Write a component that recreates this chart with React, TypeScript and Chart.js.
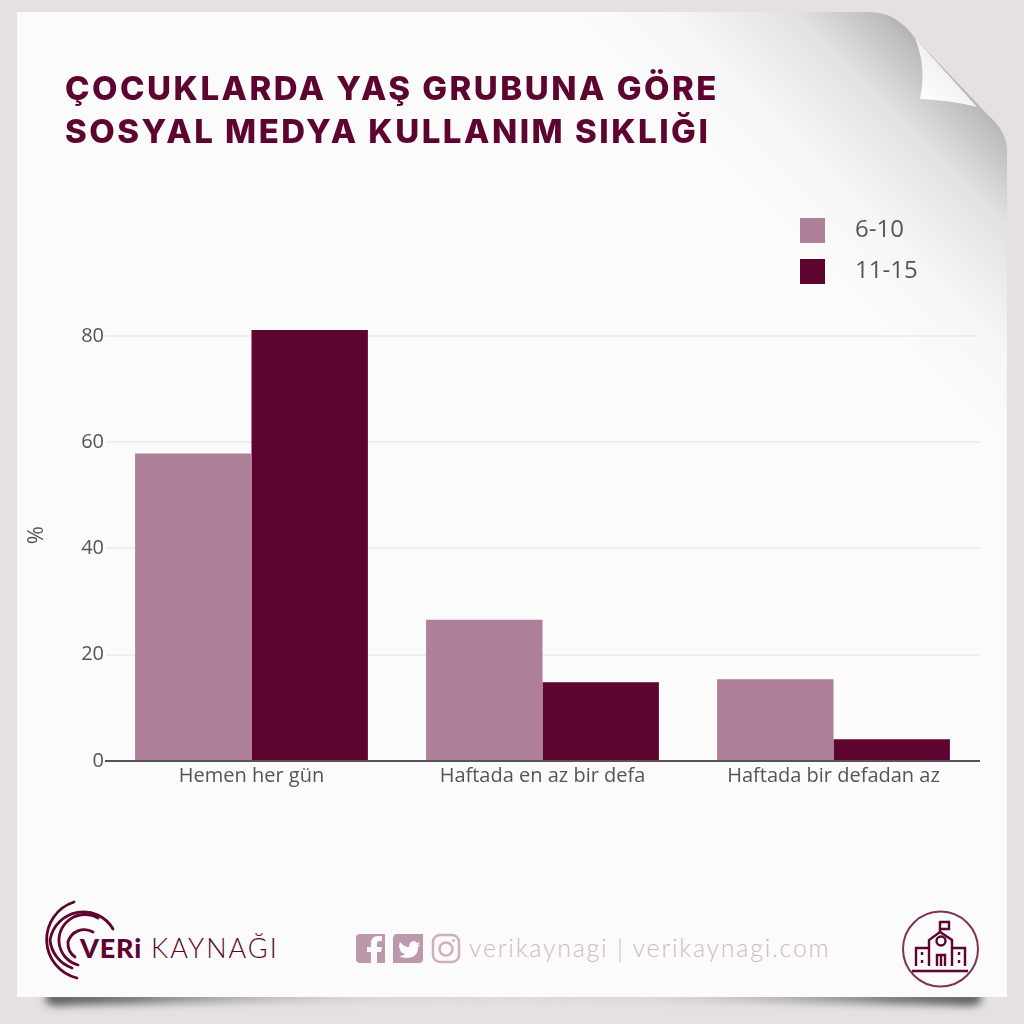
import React, { useEffect, useRef } from "react";
import { Chart, registerables } from "chart.js";

Chart.register(...registerables);

const categories = ["Hemen her gün", "Haftada en az bir defa", "Haftada bir defadan az"];
const series610 = [57.9, 26.6, 15.4];
const series1115 = [81.1, 14.8, 4.1];
const seriesNames = ["6-10", "11-15"];
const seriesColors = ["#ad7f98", "#5e0431"];
const titleLines = ["ÇOCUKLARDA YAŞ GRUBUNA GÖRE", "SOSYAL MEDYA KULLANIM SIKLIĞI"];
const yTicksMax = 85;

const placeBoxes = {
  id: "placeBoxes",
  afterLayout(chart: any) {
    const l = chart.legend;
    if (l) {
      l.left = 784; l.top = 202; l.right = l.left + 180; l.bottom = l.top + 200;
      l.width = 180; l.height = 200;
    }
    const t = chart.titleBlock;
    if (t) {
      t.left = 65;
      t.right = 900;
      if (!t.__spaced) {
        t.__spaced = true;
        const orig = t.draw.bind(t);
        t.draw = () => {
          chart.ctx.save();
          chart.ctx.letterSpacing = "2.5px";
          orig();
          chart.ctx.restore();
        };
      }
    }
  },
};

function Decor() {
  return (
    <svg width="1024" height="1024" viewBox="0 0 1024 1024" style={{ position: "absolute", left: 0, top: 0 }}>
      <defs>
        <filter id="blur" x="-10%" y="-300%" width="120%" height="700%"><feGaussianBlur stdDeviation="4" /></filter>
        <linearGradient id="bs" gradientUnits="userSpaceOnUse" x1="42" x2="985" y1="0" y2="0">
          <stop offset="0" stopColor="#555" />
          <stop offset="0.1" stopColor="#707070" />
          <stop offset="0.36" stopColor="#bbb" stopOpacity="0.3" />
          <stop offset="0.64" stopColor="#bbb" stopOpacity="0.3" />
          <stop offset="0.9" stopColor="#707070" />
          <stop offset="1" stopColor="#555" />
        </linearGradient>
        <linearGradient id="corner" gradientUnits="userSpaceOnUse" x1="965" y1="62" x2="790" y2="237">
          <stop offset="0" stopColor="#a5a5a5" />
          <stop offset="0.13" stopColor="#c0c0c0" />
          <stop offset="0.35" stopColor="#e2e2e2" />
          <stop offset="0.7" stopColor="#f6f6f6" />
          <stop offset="1" stopColor="#fbfbfb" />
        </linearGradient>
        <linearGradient id="curl" gradientUnits="userSpaceOnUse" x1="930" y1="100" x2="965" y2="65">
          <stop offset="0" stopColor="#fdfdfd" />
          <stop offset="0.6" stopColor="#f2f2f2" />
          <stop offset="1" stopColor="#d8d8d8" />
        </linearGradient>
      </defs>
      <rect width="1024" height="1024" fill="#e5e1e2" />
      <path d="M46 992 H981 V1002 Q976 1007 956 1005 Q512 995 68 1005 Q50 1007 46 1002 Z" fill="url(#bs)" filter="url(#blur)" />
      <path d="M17 12 H870 Q896 12 915 38 L988 115 Q1007 132 1007 150 V997 H17 Z" fill="url(#corner)" />
      <path d="M915 38 Q927 68 920 99 Q950 100 977 107 Z" fill="url(#curl)" />

      {/* logo */}
      <g fill="none" stroke="#5e0431" strokeWidth="2.8" strokeLinecap="round">
        <path d="M74 902 A39.5 39.5 0 0 0 77 978" />
        <path d="M113 929 A34 34 0 0 0 50 940 A33 33 0 0 0 72 968" />
        <path d="M98 918 A26 26 0 0 0 59 942 A26 26 0 0 0 78 965" />
        <path d="M93 932 A17 17 0 0 0 68 942 A17 17 0 0 0 75 957" />
      </g>
      <text x="80" y="958" fontFamily="Lato, sans-serif" fontWeight="900" fontSize="27" fill="#5e0431" letterSpacing="0.8">VERi</text>
      <text x="151" y="958" fontFamily="Lato, sans-serif" fontWeight="300" fontSize="27" fill="#5e0431" letterSpacing="2">KAYNAĞI</text>

      {/* social */}
      <g fill="#bd98ac">
        <path d="M360 934 H385 V963 H377 V952 H381 L382 947 H377 V944 Q377 941 380 941 H382 V936 H378 Q371 936 371 944 V947 H367 V952 H371 V963 H360 Q356 963 356 959 V938 Q356 934 360 934 Z" />
        <path fillRule="evenodd" d="M397 934 H423 V959 Q423 963 419 963 H393 V938 Q393 934 397 934 Z M400 942 Q404 947 409 947 Q409 941 414 941 Q416 941 417 943 L420 942 L418 945 L420 945 Q419 947 418 947 Q418 958 406 958 Q402 958 399 956 Q403 956 405 954 Q400 953 400 949 Q398 947 400 942 Z" />
      </g>
      <g fill="none" stroke="#cdb0c0">
        <rect x="433" y="935" width="26" height="27" rx="7" strokeWidth="2.5" />
        <circle cx="446" cy="949" r="6.5" strokeWidth="2.5" />
      </g>
      <circle cx="453.5" cy="940.5" r="1.5" fill="#cdb0c0" />
      <text x="469" y="957" fontFamily="Lato, sans-serif" fontWeight="300" fontSize="25" fill="#d2b8c6" letterSpacing="1.75">verikaynagi | verikaynagi.com</text>

      {/* school icon */}
      <circle cx="940.5" cy="949" r="37.5" fill="none" stroke="#7d3358" strokeWidth="2" />
      <g fill="none" stroke="#5e0431" strokeWidth="2.4">
        <path d="M912 971 H968" />
        <path d="M940 932 V921 M940 922 H949 V929 H940" />
        <path d="M929 966 V940 L940 932 L952 940 V966" />
        <circle cx="941" cy="941" r="4.5" />
        <path d="M929 948 H916 V966 M952 948 H965 V966" />
        <path d="M937 966 V955 H945 V966 M941 955 V966" />
        <path d="M922 952 V955 M922 960 V963 M959 952 V955 M959 960 V963" />
      </g>
    </svg>
  );
}

export default function App() {
  const ref = useRef<HTMLCanvasElement>(null);
  useEffect(() => {
    const chart = new Chart(ref.current as HTMLCanvasElement, {
      type: "bar",
      data: {
        labels: categories,
        datasets: [
          { label: seriesNames[0], data: series610, backgroundColor: seriesColors[0] },
          { label: seriesNames[1], data: series1115, backgroundColor: seriesColors[1] },
        ],
      },
      options: {
        animation: false,
        responsive: false,
        devicePixelRatio: 1,
        barPercentage: 1,
        categoryPercentage: 0.8,
        layout: { padding: { left: 24, right: 45, top: 0, bottom: 223 } },
        plugins: {
          tooltip: { enabled: false },
          title: {
            display: true,
            text: titleLines,
            align: "start",
            color: "#5e0431",
            font: { family: "Inter, sans-serif", size: 33, weight: "800", lineHeight: 1.303 },
            padding: { top: 69, bottom: 154.4 },
          },
          legend: {
            position: "chartArea",
            align: "start",
            labels: {
              color: "#555555",
              font: { family: "'Open Sans', sans-serif", size: 24 },
              boxWidth: 43,
              boxHeight: 25,
              padding: 16,
              generateLabels(chart: any) {
                return chart.data.datasets.map((d: any, i: number) => {
                  const g = chart.ctx.createLinearGradient(800, 0, 843, 0);
                  g.addColorStop(25 / 43, d.backgroundColor);
                  g.addColorStop(25 / 43, "rgba(0,0,0,0)");
                  return { text: d.label, fillStyle: g, strokeStyle: "rgba(0,0,0,0)", lineWidth: 0, datasetIndex: i, fontColor: "#555555" };
                });
              },
            },
          },
        },
        scales: {
          x: {
            afterFit: (s: any) => { s.height = 40; },
            grid: { display: false, drawTicks: false },
            border: { color: "#555555", width: 2 },
            ticks: { color: "#555555", padding: 3, maxRotation: 0, font: { family: "'Open Sans', sans-serif", size: 20 } },
          },
          y: {
            min: 0,
            max: yTicksMax,
            afterFit: (s: any) => { s.width = 82; },
            afterBuildTicks: (s: any) => { s.ticks = s.ticks.filter((t: any) => t.value <= 80); },
            grid: { color: "#eeeeee", drawTicks: false, lineWidth: 2 },
            border: { display: false },
            title: { display: true, text: "%", color: "#555555", padding: 0, font: { family: "'Open Sans', sans-serif", size: 22 } },
            ticks: { stepSize: 20, color: "#555555", padding: 2, font: { family: "'Open Sans', sans-serif", size: 20 } },
          },
        },
      } as any,
      plugins: [placeBoxes],
    });
    return () => chart.destroy();
  }, []);
  return (
    <div style={{ position: "absolute", left: 0, top: 0, width: 1024, height: 1024, overflow: "hidden" }}>
      <Decor />
      <canvas ref={ref} width={1024} height={1024} style={{ position: "absolute", left: 0, top: 0, display: "block" }} />
    </div>
  );
}
